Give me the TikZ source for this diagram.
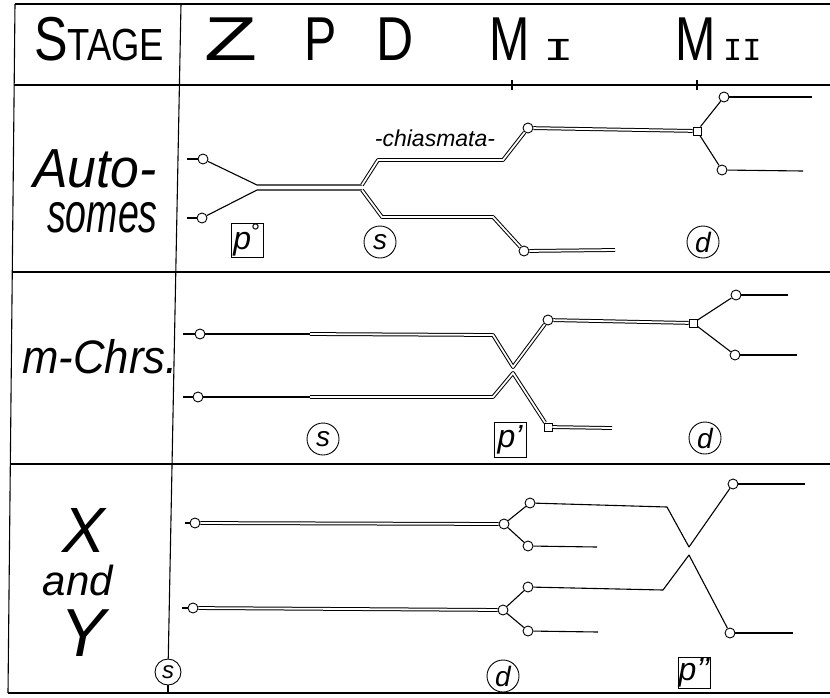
\documentclass[tikz,border=0pt]{standalone}
\usepackage{fontspec}
\usepackage{graphicx}
\setmainfont{Liberation Sans}
\newfontfamily\numfont{Liberation Mono}
\begin{document}
\begin{tikzpicture}[x=1pt,y=-1pt,
  frame/.style={line width=1.1pt},
  sgl/.style={line width=1.1pt,line join=round},
  dbl/.style={double=white,double distance=1.8pt,line width=1pt,line join=round},
  chr/.style={circle,draw,fill=white,inner sep=0pt,minimum size=10pt,line width=0.9pt},
  sq/.style={rectangle,draw,fill=white,inner sep=0pt,minimum size=8pt,line width=0.9pt},
  circlbl/.style={circle,draw,line width=0.9pt,inner sep=0pt,minimum size=32pt,font=\fontsize{28}{28}\selectfont\itshape},
  boxlbl/.style={rectangle,draw,line width=1pt,inner sep=0pt,minimum width=32pt,minimum height=34pt,font=\fontsize{32}{32}\selectfont\itshape},
  hdr/.style={anchor=base west,inner sep=0pt,font=\fontsize{62}{62}\selectfont},
  rowlbl/.style={anchor=base west,inner sep=0pt},
  chtext/.style={inner sep=0pt,font=\fontsize{23}{23}\selectfont\itshape}
]
\useasboundingbox (0,0) rectangle (830,697);
% ---------- frame ----------
\draw[frame] (15,4) -- (830,4);
\draw[frame] (15,4) -- (8,693);
\draw[frame] (8,693) -- (830,693);
\draw[frame] (14,85) -- (830,85);
\draw[frame] (12,272) -- (830,272);
\draw[frame] (10,464) -- (830,464);
\draw[frame] (512,80) -- (512,90);
\draw[frame] (697,80) -- (697,90);
\coordinate (dtop) at (181,4);
\coordinate (dbot) at (168,693);
\node[circlbl,minimum size=26pt,font=\fontsize{24}{24}\selectfont\itshape] (sX) at (168,672) {s};
\draw[frame] (dtop) -- (sX);
\draw[frame] (sX) -- (dbot);
% ---------- header ----------
\node[hdr] (hstage) at (34,60) {\scalebox{0.81}[1]{S\fontsize{45}{45}\selectfont TAGE}};
\node[hdr] (hz) at (204,60) {\scalebox{1.4}[1]{Z}};
\node[hdr] (hp) at (304,60) {\scalebox{0.78}[1]{P}};
\node[hdr] (hd) at (376,60) {\scalebox{0.83}[1]{D}};
\node[hdr] (hm1) at (489,60) {\scalebox{0.78}[1]{M}};
\node[hdr,font=\fontsize{32}{32}\numfont] (hi1) at (543,60) {\scalebox{1.6}[1]{I}};
\node[hdr] (hm2) at (675,60) {\scalebox{0.78}[1]{M}};
\node[hdr,font=\fontsize{32}{32}\numfont] (hi2) at (723,60) {II};
% ---------- row labels ----------
\node[rowlbl,font=\fontsize{55}{55}\selectfont\itshape] (lauto) at (33,187) {\scalebox{0.94}[1]{Auto-}};
\node[rowlbl,font=\fontsize{56}{56}\selectfont\itshape] (lsomes) at (47,232) {\scalebox{0.67}[1]{somes}};
\node[rowlbl,font=\fontsize{47}{47}\selectfont\itshape] (lm) at (22,373) {\scalebox{0.93}[1]{m-Chrs.}};
\node[anchor=base,inner sep=0pt,font=\fontsize{64}{64}\selectfont\itshape] (lx) at (84,552) {X};
\node[anchor=base,inner sep=0pt,font=\fontsize{42}{42}\selectfont\itshape] (land) at (78,595) {and};
\node[anchor=base,inner sep=0pt,font=\fontsize{68}{68}\selectfont\itshape] (ly) at (83,656) {Y};
% ---------- Autosomes ----------
\node[chr] (A1) at (203,159) {};
\node[chr] (A2) at (202,218) {};
\coordinate (a1s) at (187,159);
\coordinate (a2s) at (187,218);
\coordinate (a1j) at (257,185);
\coordinate (a2j) at (257,190);
\coordinate (a1k) at (362,185);
\coordinate (a2k) at (362,190);
\coordinate (a1u) at (378,160);
\coordinate (a1v) at (503,160);
\coordinate (a2u) at (382,217);
\coordinate (a2v) at (493,217);
\node[chr] (A3) at (528,128) {};
\node[chr] (A4) at (524,251) {};
\node[sq] (A5) at (697,131) {};
\node[chr] (A6) at (724,97) {};
\node[chr] (A7) at (722,170) {};
\coordinate (a4e) at (615,250);
\coordinate (a6e) at (812,97);
\coordinate (a7e) at (803,171);
\draw[sgl] (a1s) -- (A1);
\draw[sgl] (a2s) -- (A2);
\draw[sgl] (A1) -- (a1j) -- (a1k);
\draw[sgl] (A2) -- (a2j) -- (a2k);
\draw[dbl] (a1k) -- (a1u) -- (a1v) -- (A3);
\draw[dbl] (a2k) -- (a2u) -- (a2v) -- (A4);
\draw[dbl] (A3) -- (A5);
\draw[dbl] (A4) -- (a4e);
\draw[sgl] (A5) -- (A6);
\draw[sgl] (A5) -- (A7);
\draw[sgl] (A6) -- (a6e);
\draw[sgl] (A7) -- (a7e);
\node[chtext] (chi) at (435,138) {-chiasmata-};
\node[boxlbl] (bp0) at (247,240) {p\textsuperscript{\upshape °}};
\node[circlbl] (cs1) at (380,242) {s};
\node[circlbl] (cd1) at (703,242) {d};
% ---------- m-Chrs ----------
\node[chr] (M1) at (200,334) {};
\node[chr] (M2) at (198,397) {};
\coordinate (m1s) at (183,334);
\coordinate (m2s) at (183,397);
\coordinate (m1d) at (310,334);
\coordinate (m2d) at (310,397);
\coordinate (m1e) at (493,335);
\coordinate (m2e) at (493,397);
\coordinate (m1v) at (513,367);
\coordinate (m2v) at (513,373);
\node[chr] (M3) at (548,320) {};
\node[sq] (M4) at (548,427) {};
\node[sq] (M5) at (693,323) {};
\node[chr] (M6) at (736,295) {};
\node[chr] (M7) at (735,355) {};
\coordinate (m4e) at (612,428);
\coordinate (m6e) at (788,295);
\coordinate (m7e) at (797,355);
\draw[sgl] (m1s) -- (M1);
\draw[sgl] (m2s) -- (M2);
\draw[sgl] (M1) -- (m1d);
\draw[sgl] (M2) -- (m2d);
\draw[dbl] (m1d) -- (m1e) -- (m1v) -- (M3);
\draw[dbl] (m2d) -- (m2e) -- (m2v) -- (M4);
\draw[dbl] (M3) -- (M5);
\draw[dbl] (M4) -- (m4e);
\draw[sgl] (M5) -- (M6);
\draw[sgl] (M5) -- (M7);
\draw[sgl] (M6) -- (m6e);
\draw[sgl] (M7) -- (m7e);
\node[circlbl] (cs2) at (323,439) {s};
\node[boxlbl,minimum height=35pt] (bp1) at (510,440) {p'};
\node[circlbl] (cd2) at (705,438) {d};
% ---------- X and Y ----------
\node[chr] (X1) at (195,523) {};
\node[chr] (Y1) at (193,608) {};
\coordinate (x1s) at (185,523);
\coordinate (y1s) at (182,608);
\node[chr] (X3) at (504,524) {};
\node[chr] (Y3) at (503,610) {};
\node[chr] (X4) at (530,503) {};
\node[chr] (X5) at (528,546) {};
\node[chr] (Y4) at (528,587) {};
\node[chr] (Y5) at (528,631) {};
\coordinate (x4b) at (667,507);
\coordinate (xv) at (689,547);
\coordinate (y4b) at (663,590);
\coordinate (yv) at (689,555);
\node[chr] (X6) at (733,484) {};
\node[chr] (Y6) at (730,633) {};
\coordinate (x6e) at (805,484);
\coordinate (y6e) at (793,633);
\coordinate (x5e) at (597,547);
\coordinate (y5e) at (598,632);
\draw[sgl] (x1s) -- (X1);
\draw[sgl] (y1s) -- (Y1);
\draw[dbl] (X1) -- (X3);
\draw[dbl] (Y1) -- (Y3);
\draw[sgl] (X3) -- (X4);
\draw[sgl] (X3) -- (X5);
\draw[sgl] (Y3) -- (Y4);
\draw[sgl] (Y3) -- (Y5);
\draw[sgl] (X4) -- (x4b) -- (xv) -- (X6);
\draw[sgl] (Y4) -- (y4b) -- (yv) -- (Y6);
\draw[sgl] (X6) -- (x6e);
\draw[sgl] (Y6) -- (y6e);
\draw[sgl] (X5) -- (x5e);
\draw[sgl] (Y5) -- (y5e);
\node[circlbl] (cd3) at (503,676) {d};
\node[boxlbl,minimum height=31pt] (bp2) at (694,673) {p'{}'};
\end{tikzpicture}
\end{document}
